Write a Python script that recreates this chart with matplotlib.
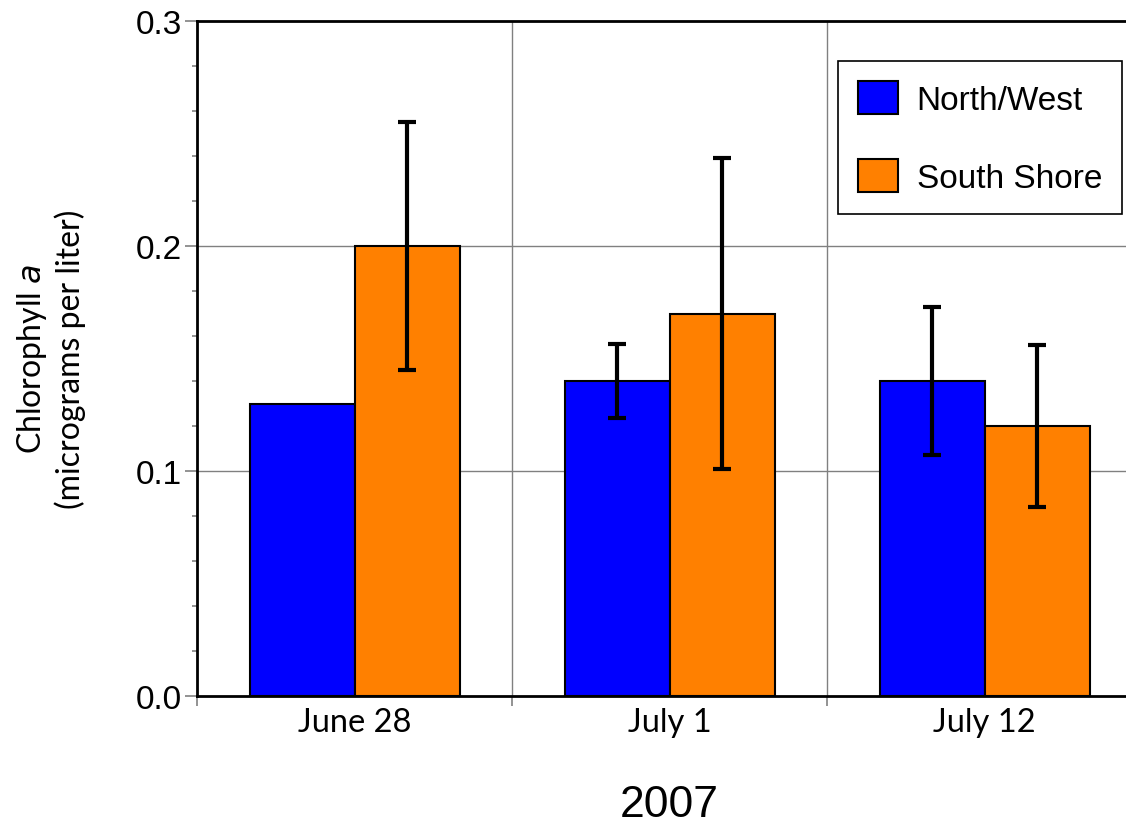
import matplotlib
matplotlib.use("Agg")
import matplotlib.pyplot as plt
import numpy as np
from matplotlib.ticker import MultipleLocator, FixedLocator

categories = ["June 28", "July 1", "July 12"]
series_names = ["North/West", "South Shore"]
north_west = [0.13, 0.14, 0.14]
north_west_err = [0.0, 0.0165, 0.033]
south_shore = [0.20, 0.17, 0.12]
south_shore_err = [0.055, 0.069, 0.036]
colors = ["#0000FF", "#FF8000"]
year_label = "2007"

fig = plt.figure(figsize=(11.26, 8.28), dpi=100)
ax = fig.add_axes([197/1126, 131/828, 945/1126, 675/828])

x = np.arange(len(categories)) + 0.5
w = 1/3
ax.bar(x - w/2, north_west, w, color=colors[0], edgecolor="black", linewidth=1.5,
       label=series_names[0], zorder=3)
ax.bar(x + w/2, south_shore, w, color=colors[1], edgecolor="black", linewidth=1.5,
       label=series_names[1], zorder=3)
nw_idx = [i for i, e in enumerate(north_west_err) if e > 0]
ax.errorbar(x[nw_idx] - w/2, [north_west[i] for i in nw_idx],
            yerr=[north_west_err[i] for i in nw_idx], fmt="none", ecolor="black",
            elinewidth=3, capsize=6.5, capthick=3, zorder=4)
ax.errorbar(x + w/2, south_shore, yerr=south_shore_err, fmt="none", ecolor="black",
            elinewidth=3, capsize=6.5, capthick=3, zorder=4)

ax.set_xlim(0, 3)
ax.set_ylim(0, 0.3)

# grid
for yv in [0.1, 0.2]:
    ax.axhline(yv, color="#808080", linewidth=1, zorder=1)
for xv in [1, 2]:
    ax.axvline(xv, color="#808080", linewidth=1, zorder=1)

ax.yaxis.set_major_locator(FixedLocator([0, 0.1, 0.2, 0.3]))
ax.yaxis.set_minor_locator(MultipleLocator(0.02))
ax.set_yticklabels(["0.0", "0.1", "0.2", "0.3"], fontsize=24, family="Liberation Sans")
ax.tick_params(axis="y", which="major", length=8.6, width=1.2, color="#808080", pad=2)
ax.tick_params(axis="y", which="minor", length=3.6, width=1.2, color="#808080")

ax.xaxis.set_major_locator(FixedLocator([0, 1, 2, 3]))
ax.xaxis.set_minor_locator(FixedLocator(list(x)))
ax.set_xticklabels([], minor=False)
ax.set_xticklabels(categories, minor=True, fontsize=23.5, family="Lato")
ax.tick_params(axis="x", which="major", length=7, width=1.2, color="#808080")
ax.tick_params(axis="x", which="minor", length=0, pad=8)

for s in ["left", "bottom", "top", "right"]:
    ax.spines[s].set_linewidth(2)
    ax.spines[s].set_color("black")

ax.set_xlabel(year_label, fontsize=32, family="Liberation Sans", labelpad=34)
ax.set_ylabel("Chlorophyll $\\it{a}$\n(micrograms per liter)", fontsize=23, family="Lato",
              labelpad=36, linespacing=1.22)

leg = ax.legend(loc="upper right", bbox_to_anchor=(1122/1126, 1 - 62/828),
                bbox_transform=fig.transFigure, prop={"family": "Liberation Sans", "size": 24},
                frameon=True, fancybox=False, shadow=False, framealpha=1,
                edgecolor="black", handlelength=1.2, handleheight=1.15,
                handletextpad=0.55, labelspacing=1.3, borderpad=0.6, borderaxespad=0)
leg.get_frame().set_linewidth(1.2)

fig.savefig("out.png", dpi=100)
